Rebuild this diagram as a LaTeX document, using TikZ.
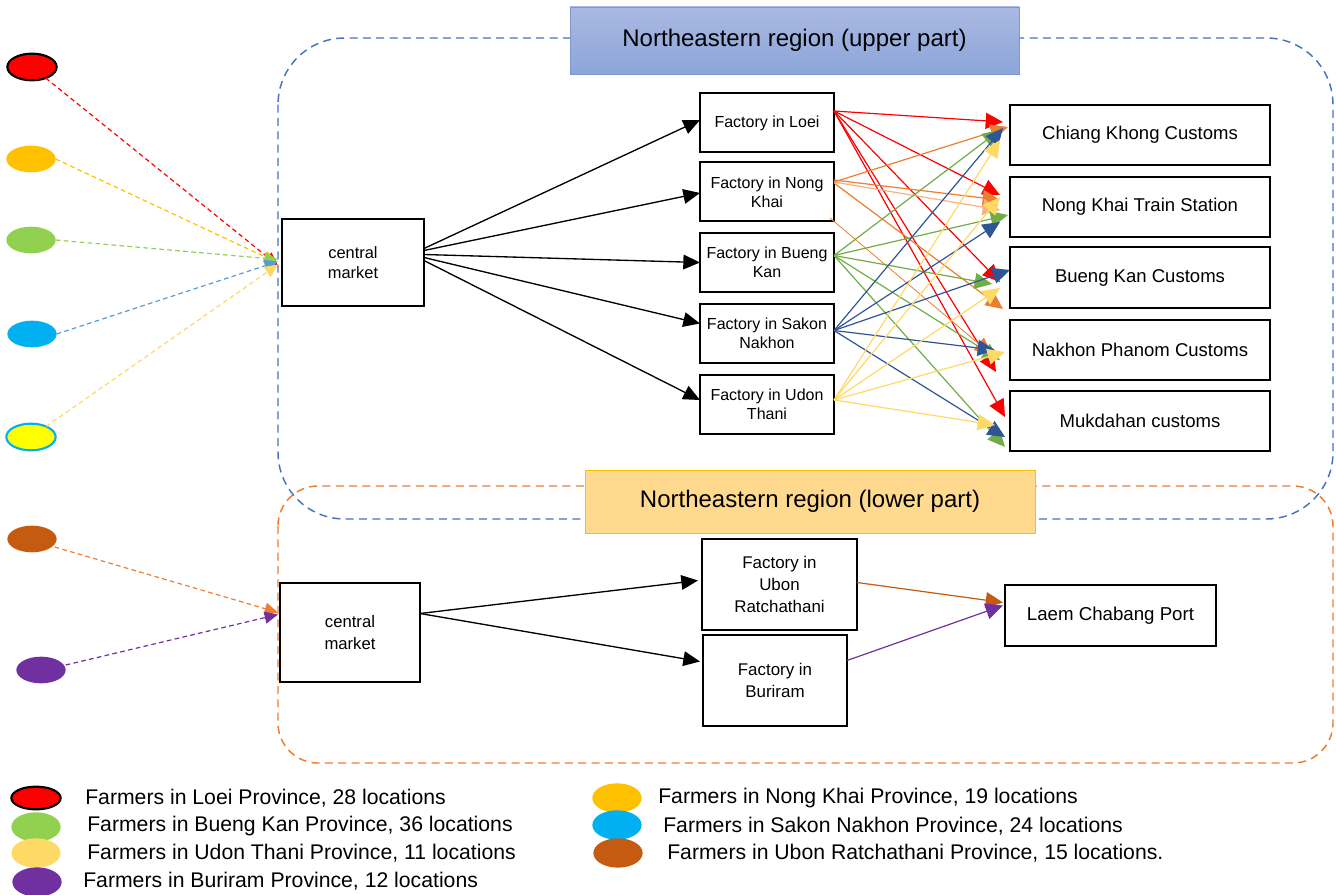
\documentclass[tikz,border=0pt]{standalone}
\usepackage{fontspec}
\setmainfont{Liberation Sans}
\usetikzlibrary{shapes.geometric,arrows.meta,calc}
\definecolor{cRed}{HTML}{FF0000}
\definecolor{cGold}{HTML}{FFC000}
\definecolor{cLGreen}{HTML}{92D050}
\definecolor{cCyan}{HTML}{00B0F0}
\definecolor{cYellow}{HTML}{FFFF00}
\definecolor{cBrown}{HTML}{C55A11}
\definecolor{cPurple}{HTML}{7030A0}
\definecolor{cPale}{HTML}{FFD966}
\definecolor{cSky}{HTML}{5B9BD5}
\definecolor{cOrange}{HTML}{ED7D31}
\definecolor{cLOrange}{HTML}{F4B183}
\definecolor{cGreen}{HTML}{70AD47}
\definecolor{cNavy}{HTML}{2F5597}
\definecolor{cBlueLine}{HTML}{4472C4}
\definecolor{cTitleTop}{HTML}{AAB9E2}
\definecolor{cTitleBot}{HTML}{8CA5DA}
\definecolor{cTitleEdge}{HTML}{7F97CF}
\definecolor{cLowFill}{HTML}{FFD98E}
\tikzset{
  box/.style={draw=black, line width=1.5pt, fill=white, inner sep=0pt, outer sep=0pt, align=center},
  farmer/.style={ellipse, minimum width=37pt, minimum height=20pt, inner sep=0pt, outer sep=0pt},
  farr/.style={line width=0.9pt, dash pattern=on 3.5pt off 2.5pt, -{Triangle[length=10pt,width=9pt]}},
  barr/.style={line width=1pt, -{Triangle[length=12.5pt,width=11pt]}},
  carr/.style={line width=0.9pt, -{Triangle[length=13pt,width=12pt]}},
  legtext/.style={anchor=west, font=\fontsize{15.9pt}{18pt}\selectfont, inner sep=0pt}
}
\begin{document}
\begin{tikzpicture}[x=0.75pt,y=-0.75pt]
\useasboundingbox (0,0) rectangle (1336,895);
% region frames
\draw[cBlueLine, line width=1.1pt, dash pattern=on 6pt off 4pt, rounded corners=50pt] (278,38) rectangle (1333,519);
\draw[cOrange, line width=1.1pt, dash pattern=on 6pt off 4pt, rounded corners=30pt] (278,486) rectangle (1333,763);
\node[draw=cTitleEdge, line width=0.6pt, top color=cTitleTop, bottom color=cTitleBot, minimum width=336.75pt, minimum height=50.25pt, inner sep=0pt, font=\fontsize{18pt}{21pt}\selectfont] (t1) at (794.5,40.5) {Northeastern region (upper part)};
\node[draw=cGold, line width=0.6pt, fill=cLowFill, minimum width=337.5pt, minimum height=47.25pt, inner sep=0pt, font=\fontsize{18pt}{21pt}\selectfont] (t2) at (810,501.5) {Northeastern region (lower part)};

% farmers
\node[farmer, fill=cRed, draw=black, line width=1.6pt] (f1) at (32,67) {};
\node[farmer, fill=cGold] (f2) at (31,159) {};
\node[farmer, fill=cLGreen] (f3) at (31,240) {};
\node[farmer, fill=cCyan] (f4) at (32,334) {};
\node[farmer, fill=cYellow, draw=cCyan, line width=1.6pt] (f5) at (31,437) {};
\node[farmer, fill=cBrown] (f6) at (32,539) {};
\node[farmer, fill=cPurple] (f7) at (41,670) {};

% upper part
\node[box, minimum width=106.5pt, minimum height=65.25pt, font=\fontsize{12.3pt}{15pt}\selectfont] (cm1) at (353,262.5) {central\\market};
\tikzset{fac/.style={box, minimum width=100.5pt, minimum height=44.25pt, font=\fontsize{12pt}{14.5pt}\selectfont}}
\node[fac] (lo) at (767,123) {Factory in Loei};
\node[fac] (nk) at (767,192) {Factory in Nong\\Khai};
\node[fac] (bk) at (767,262.5) {Factory in Bueng\\Kan};
\node[fac] (sn) at (767,333.5) {Factory in Sakon\\Nakhon};
\node[fac] (ut) at (767,404) {Factory in Udon\\Thani};
\tikzset{cus/.style={box, minimum width=195pt, minimum height=45pt, font=\fontsize{13.9pt}{16pt}\selectfont}}
\node[cus] (ck) at (1140,135) {Chiang Khong Customs};
\node[cus] (nt) at (1140,207) {Nong Khai Train Station};
\node[cus] (bc) at (1140,277.5) {Bueng Kan Customs};
\node[cus] (np) at (1140,349.5) {Nakhon Phanom Customs};
\node[cus] (mk) at (1140,421) {Mukdahan customs};

% farmer arrows (upper)
\draw[farr, cRed] (f1) -- ($(cm1.west)+(-4,3)$);
\draw[farr, cGold] (f2.east) -- ($(cm1.west)+(-5,0)$);
\draw[farr, cLGreen] (f3.east) -- ($(cm1.west)+(-4,-3)$);
\draw[farr, cSky] (f4.east) -- ($(cm1.west)+(-4,-1)$);
\draw[farr, cPale] (f5) -- ($(cm1.west)+(-4,2)$);

% central market -> factories
\draw[barr] ($(cm1.east)+(0,-14)$) -- ($(lo.west)+(0,-3)$);
\draw[barr] ($(cm1.east)+(0,-12)$) -- ($(nk.west)+(0,1)$);
\draw[barr] ($(cm1.east)+(0,-8)$) -- (bk.west);
\draw[barr] ($(cm1.east)+(0,-5)$) -- ($(sn.west)+(0,-10)$);
\draw[barr] ($(cm1.east)+(0,-2)$) -- ($(ut.west)+(0,-4)$);

% Loei (red)
\draw[carr, cRed] ($(lo.east)+(0,-12)$) -- ($(ck.west)+(-7,-13)$);
\draw[carr, cRed] ($(lo.east)+(0,-12)$) -- ($(nt.west)+(-10,-12)$);
\draw[carr, cRed] ($(lo.east)+(0,-12)$) -- ($(bc.west)+(-10,4.5)$);
\draw[carr, cRed] ($(lo.east)+(0,-12)$) -- ($(np.west)+(-14,22.5)$);
\draw[carr, cRed] ($(lo.east)+(0,-12)$) -- ($(mk.west)+(-5,-4)$);
% Nong Khai (orange)
\draw[carr, cOrange] ($(nk.east)+(0,-10)$) -- ($(ck.west)+(-2,-8)$);
\draw[carr, cOrange] ($(nk.east)+(0,-12)$) -- ($(nt.west)+(-10,-7)$);
\draw[carr, cLOrange] ($(nk.east)+(0,-10)$) -- ($(nt.west)+(-10,3)$);
\draw[carr, cOrange] ($(nk.east)+(0,-9)$) -- ($(bc.west)+(-7,31.5)$);
\draw[carr, cOrange, line width=0.6pt] ($(nk.east)+(-4,26)$) -- ($(np.west)+(-18,5.5)$);
% Bueng Kan (green)
\draw[carr, cGreen] ($(bk.east)+(0,-7)$) -- ($(ck.west)+(-10,-5)$);
\draw[carr, cGreen] ($(bk.east)+(0,-7)$) -- ($(nt.west)+(-2,8)$);
\draw[carr, cGreen] ($(bk.east)+(0,-7)$) -- ($(bc.west)+(-18,6.5)$);
\draw[carr, cGreen] ($(bk.east)+(0,-7)$) -- ($(np.west)+(-10,10.5)$);
\draw[carr, cGreen] ($(bk.east)+(0,-7)$) -- ($(mk.west)+(-5,26)$);
% Sakon Nakhon (navy)
\draw[carr, cNavy] ($(sn.east)+(0,-3)$) -- ($(ck.west)+(-7,-7)$);
\draw[carr, cNavy] ($(sn.east)+(0,-3)$) -- ($(nt.west)+(-10,15)$);
\draw[carr, cNavy] ($(sn.east)+(0,-3)$) -- ($(bc.west)+(0,-7.5)$);
\draw[carr, cNavy] ($(sn.east)+(0,-3)$) -- ($(np.west)+(-15,0.5)$);
\draw[carr, cNavy] ($(sn.east)+(0,-3)$) -- ($(mk.west)+(-5,16)$);
% Udon Thani (pale yellow)
\draw[carr, cPale] ($(ut.east)+(0,-4)$) -- ($(ck.west)+(-10,5)$);
\draw[carr, cPale] ($(ut.east)+(0,-4)$) -- ($(nt.west)+(-10,-10)$);
\draw[carr, cPale] ($(ut.east)+(0,-4)$) -- ($(bc.west)+(-10,10.5)$);
\draw[carr, cPale] ($(ut.east)+(0,-4)$) -- ($(np.west)+(-5,2.5)$);
\draw[carr, cPale] ($(ut.east)+(0,-4)$) -- ($(mk.west)+(-15,4)$);

% lower part
\node[box, minimum width=105pt, minimum height=74.25pt, font=\fontsize{12.5pt}{16pt}\selectfont] (cm2) at (350,632.5) {central\\market};
\node[box, minimum width=116.25pt, minimum height=68.25pt, font=\fontsize{12.7pt}{16.5pt}\selectfont] (ub) at (779.5,584.5) {Factory in\\Ubon\\Ratchathani};
\node[box, minimum width=108pt, minimum height=68.25pt, font=\fontsize{12.7pt}{16.5pt}\selectfont] (br) at (775,680.5) {Factory in\\Buriram};
\node[box, minimum width=158.25pt, minimum height=45.75pt, font=\fontsize{14pt}{16pt}\selectfont] (lc) at (1110.5,615.5) {Laem Chabang Port};

\draw[farr, cOrange] (f6.east) ++(-2,8) -- ($(cm2.west)+(-2,-20)$);
\draw[farr, cPurple] (f7.east) ++(0,-5) -- ($(cm2.west)+(-2,-18)$);
\draw[barr] ($(cm2.east)+(0,-19)$) -- ($(ub.west)+(-4,-4)$);
\draw[barr] ($(cm2.east)+(0,-19)$) -- ($(br.west)+(-3,-19)$);
\draw[carr, cBrown] ($(ub.east)+(0,-2)$) -- ($(lc.west)+(-2,-13)$);
\draw[carr, cPurple] ($(br.east)+(0,-20)$) -- ($(lc.west)+(-2,-10)$);

% legend
\node[farmer, fill=cRed, draw=black, line width=1.6pt, minimum height=17pt] (l1) at (36,798) {};
\node[farmer, fill=cLGreen, minimum height=22pt] (l2) at (36,827) {};
\node[farmer, fill=cPale, minimum height=22pt] (l3) at (36,853) {};
\node[farmer, fill=cPurple, minimum height=22pt] (l4) at (37,882) {};
\node[legtext] (lt1) at (85,798) {Farmers in Loei Province, 28 locations};
\node[legtext] (lt2) at (87,826) {Farmers in Bueng Kan Province, 36 locations};
\node[legtext] (lt3) at (87,853) {Farmers in Udon Thani Province, 11 locations};
\node[legtext] (lt4) at (83,881) {Farmers in Buriram Province, 12 locations};
\node[farmer, fill=cGold, minimum height=22pt] (r1) at (617,798) {};
\node[farmer, fill=cCyan, minimum height=22pt] (r2) at (617,825) {};
\node[farmer, fill=cBrown, minimum height=22pt] (r3) at (618,853) {};
\node[legtext] (rt1) at (658,798) {Farmers in Nong Khai Province, 19 locations};
\node[legtext] (rt2) at (663,826) {Farmers in Sakon Nakhon Province, 24 locations};
\node[legtext] (rt3) at (667,853) {Farmers in Ubon Ratchathani Province, 15 locations.};
\end{tikzpicture}
\end{document}
